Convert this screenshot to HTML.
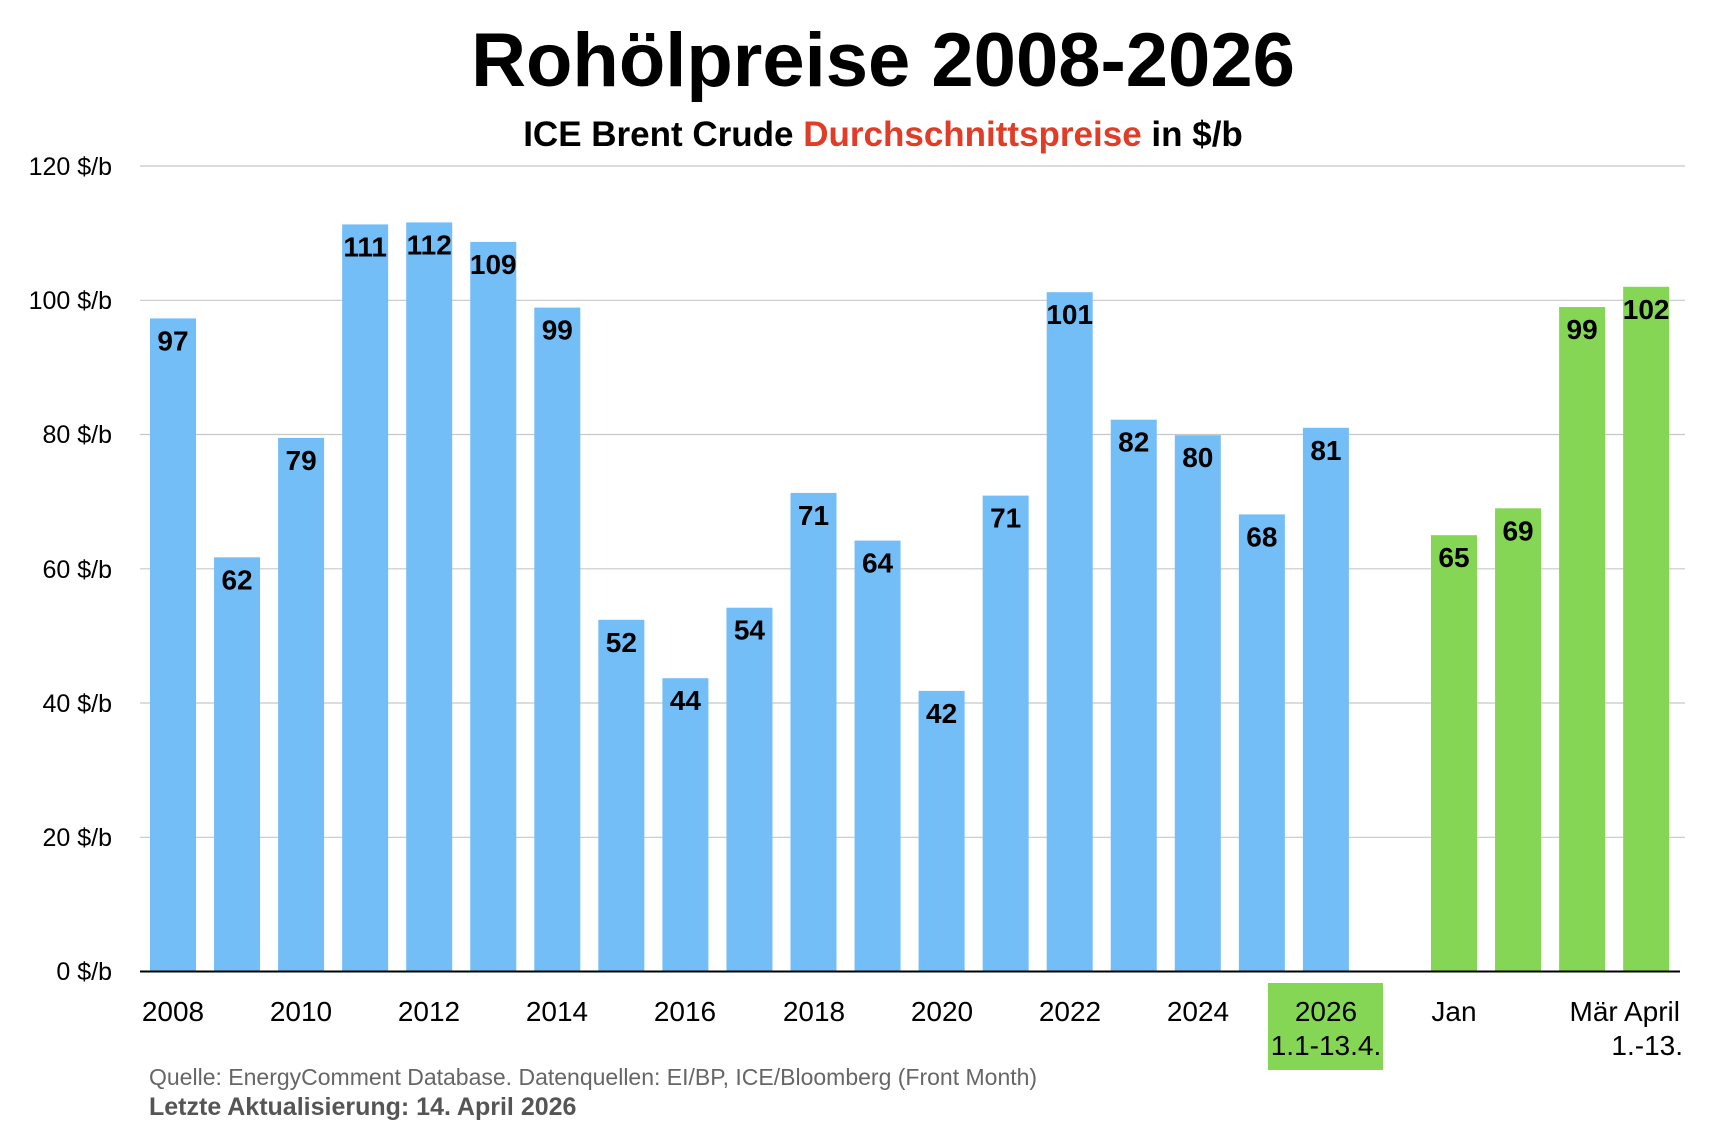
<!DOCTYPE html>
<html><head><meta charset="utf-8"><style>
html,body{margin:0;padding:0;background:#fff;}
svg{display:block;font-family:"Liberation Sans",sans-serif;}
</style></head><body>
<svg width="1710" height="1132" viewBox="0 0 1710 1132" xmlns="http://www.w3.org/2000/svg">
<text x="883" y="86" text-anchor="middle" font-size="76" font-weight="bold" fill="#000">Rohölpreise 2008-2026</text>
<text x="883" y="146" text-anchor="middle" font-size="35" font-weight="bold" fill="#000">ICE Brent Crude <tspan fill="#E03C28">Durchschnittspreise</tspan> in $/b</text>
<g stroke="#c8c8c8" stroke-width="1.2">
<line x1="140" x2="1685" y1="166" y2="166"/>
<line x1="140" x2="1685" y1="300.3" y2="300.3"/>
<line x1="140" x2="1685" y1="434.5" y2="434.5"/>
<line x1="140" x2="1685" y1="568.8" y2="568.8"/>
<line x1="140" x2="1685" y1="703" y2="703"/>
<line x1="140" x2="1685" y1="837.3" y2="837.3"/>
</g>
<g font-size="25" fill="#000" text-anchor="end">
<text x="112" y="175">120 $/b</text>
<text x="112" y="309">100 $/b</text>
<text x="112" y="443">80 $/b</text>
<text x="112" y="578">60 $/b</text>
<text x="112" y="712">40 $/b</text>
<text x="112" y="846">20 $/b</text>
<text x="112" y="980">0 $/b</text>
</g>
<g fill="#74BEF7">
<rect x="150" y="318.4" width="46" height="653.1"/>
<rect x="214.05" y="557.3" width="46" height="414.2"/>
<rect x="278.1" y="437.9" width="46" height="533.6"/>
<rect x="342.15" y="224.4" width="46" height="747.1"/>
<rect x="406.2" y="222.4" width="46" height="749.1"/>
<rect x="470.25" y="241.9" width="46" height="729.6"/>
<rect x="534.3" y="307.6" width="46" height="663.9"/>
<rect x="598.35" y="619.8" width="46" height="351.7"/>
<rect x="662.4" y="678.2" width="46" height="293.3"/>
<rect x="726.45" y="607.7" width="46" height="363.8"/>
<rect x="790.5" y="492.9" width="46" height="478.6"/>
<rect x="854.55" y="540.6" width="46" height="430.9"/>
<rect x="918.6" y="690.9" width="46" height="280.6"/>
<rect x="982.65" y="495.6" width="46" height="475.9"/>
<rect x="1046.7" y="292.2" width="46" height="679.3"/>
<rect x="1110.75" y="419.7" width="46" height="551.8"/>
<rect x="1174.8" y="435.2" width="46" height="536.3"/>
<rect x="1238.85" y="514.4" width="46" height="457.1"/>
<rect x="1302.9" y="427.8" width="46" height="543.7"/>
</g>
<g fill="#84D654">
<rect x="1431" y="535.2" width="46" height="436.3"/>
<rect x="1495.05" y="508.3" width="46" height="463.2"/>
<rect x="1559.1" y="307" width="46" height="664.5"/>
<rect x="1623.15" y="286.8" width="46" height="684.7"/>
</g>
<g font-size="28" font-weight="bold" fill="#000" text-anchor="middle">
<text x="173" y="350.4">97</text>
<text x="237.05" y="589.3">62</text>
<text x="301.1" y="469.9">79</text>
<text x="365.15" y="256.4">111</text>
<text x="429.2" y="254.4">112</text>
<text x="493.25" y="273.9">109</text>
<text x="557.3" y="339.6">99</text>
<text x="621.35" y="651.8">52</text>
<text x="685.4" y="710.2">44</text>
<text x="749.45" y="639.7">54</text>
<text x="813.5" y="524.9">71</text>
<text x="877.55" y="572.6">64</text>
<text x="941.6" y="722.9">42</text>
<text x="1005.65" y="527.6">71</text>
<text x="1069.7" y="324.2">101</text>
<text x="1133.75" y="451.7">82</text>
<text x="1197.8" y="467.2">80</text>
<text x="1261.85" y="546.4">68</text>
<text x="1325.9" y="459.8">81</text>
<text x="1454" y="567.2">65</text>
<text x="1518.05" y="540.3">69</text>
<text x="1582.1" y="339">99</text>
<text x="1646.15" y="318.8">102</text>
</g>
<line x1="140" x2="1680" y1="971.5" y2="971.5" stroke="#000" stroke-width="2"/>
<rect x="1268" y="983" width="115" height="87" fill="#84D654"/>
<g font-size="28" fill="#000" text-anchor="middle">
<text x="173" y="1021">2008</text>
<text x="301" y="1021">2010</text>
<text x="429" y="1021">2012</text>
<text x="557" y="1021">2014</text>
<text x="685" y="1021">2016</text>
<text x="814" y="1021">2018</text>
<text x="942" y="1021">2020</text>
<text x="1070" y="1021">2022</text>
<text x="1198" y="1021">2024</text>
<text x="1326" y="1021">2026</text>
<text x="1326" y="1055">1.1-13.4.</text>
<text x="1454" y="1021">Jan</text>
<text x="1680" y="1021" text-anchor="end">Mär April</text>
<text x="1683" y="1055" text-anchor="end">1.-13.</text>
</g>
<text x="149" y="1085" font-size="23" fill="#666">Quelle: EnergyComment Database. Datenquellen: EI/BP, ICE/Bloomberg (Front Month)</text>
<text x="149" y="1115" font-size="25" font-weight="bold" fill="#555">Letzte Aktualisierung: 14. April 2026</text>
</svg>
</body></html>
